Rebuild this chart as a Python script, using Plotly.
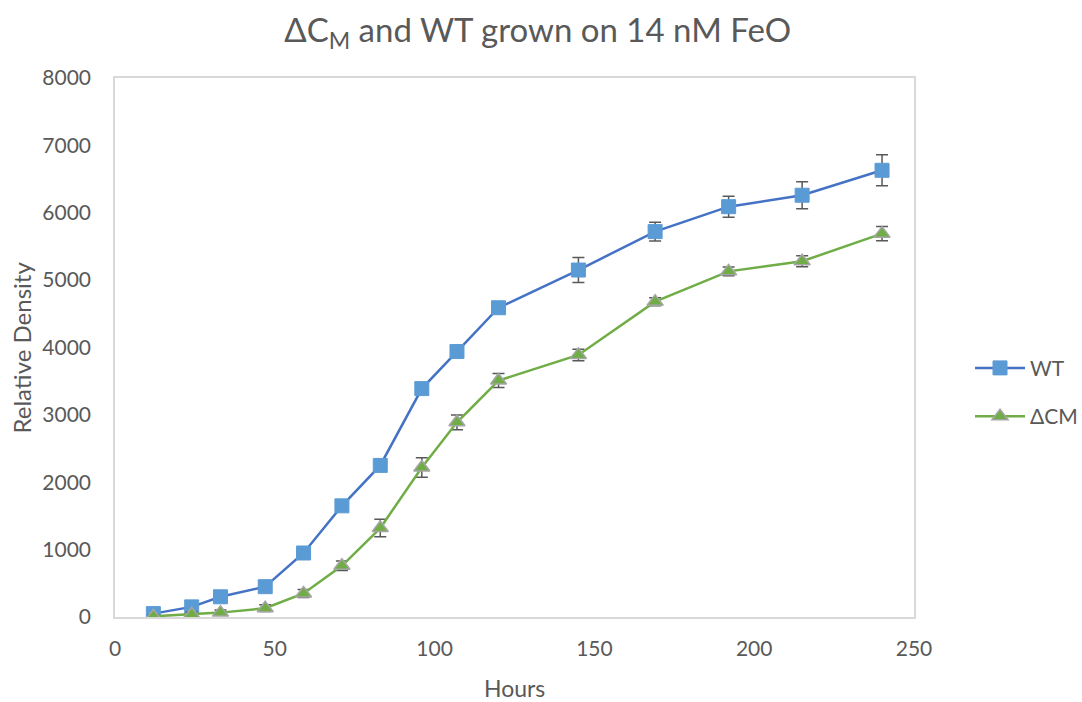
import plotly.graph_objects as go

hours_wt = [12, 24, 33, 47, 59, 71, 83, 96, 107, 120, 145, 169, 192, 215, 240]
wt = [50, 150, 300, 450, 950, 1650, 2250, 3390, 3940, 4590, 5150, 5720, 6090, 6260, 6630]
wt_err = [20, 30, 30, 40, 50, 50, 60, 60, 60, 70, 185, 140, 155, 200, 230]

hours_cm = [12, 24, 33, 47, 59, 71, 83, 96, 107, 120, 145, 169, 192, 215, 240]
cm = [10, 40, 65, 130, 350, 760, 1320, 2220, 2890, 3510, 3890, 4680, 5130, 5280, 5690]
cm_err = [20, 30, 40, 50, 60, 70, 130, 145, 110, 105, 85, 60, 65, 80, 105]

font = "Lato, Calibri, Carlito, sans-serif"
txt = "#595959"

fig = go.Figure()
fig.add_trace(go.Scatter(
    x=hours_wt, y=wt, name="WT", mode="lines+markers",
    line=dict(color="#4472C4", width=2.5),
    marker=dict(symbol="square", size=14, color="#5B9BD5", line=dict(color="#5B9BD5", width=1)),
    error_y=dict(type="data", array=wt_err, color="#595959", thickness=1.5, width=6),
    legendgroup="a",
))
fig.add_trace(go.Scatter(
    x=hours_cm, y=cm, name="ΔCM", mode="lines+markers",
    line=dict(color="#70AD47", width=2.5),
    marker=dict(symbol="triangle-up", size=14, color="#70AD47", line=dict(color="#A5A5A5", width=1.5)),
    error_y=dict(type="data", array=cm_err, color="#595959", thickness=1.5, width=6),
    legendgroup="b",
))

fig.update_layout(
    width=1082, height=702,
    paper_bgcolor="white", plot_bgcolor="white",
    margin=dict(l=115, r=168, t=78, b=85, autoexpand=False),
    font=dict(family=font, color=txt, size=21),
    title=dict(text="ΔC<sub>M</sub> and WT grown on 14 nM FeO", x=0.497, xanchor="center",
               y=0.957, yanchor="middle", font=dict(size=33, color=txt, family=font)),
    xaxis=dict(range=[0, 250], tickvals=[0, 50, 100, 150, 200, 250], showgrid=False,
               zeroline=False, showline=True, linecolor="#D9D9D9", linewidth=1.5, mirror=True,
               ticks="", ticklabelstandoff=12, tickfont=dict(size=21), automargin=False),
    yaxis=dict(range=[0, 8000], tickvals=list(range(0, 8001, 1000)), showgrid=False,
               zeroline=False, showline=True, linecolor="#D9D9D9", linewidth=1.5, mirror=True,
               ticks="", ticklabelstandoff=18, tickfont=dict(size=21), automargin=False),
    legend=dict(xref="container", x=0.8965, y=0.417, yref="paper", xanchor="left", yanchor="middle",
                tracegroupgap=18, itemwidth=50, font=dict(size=21, color=txt),
                bgcolor="rgba(0,0,0,0)"),
    annotations=[
        dict(text="Hours", xref="paper", yref="paper", x=0.5, y=-0.1317,
             xanchor="center", yanchor="middle", showarrow=False,
             font=dict(size=23, color=txt, family=font)),
        dict(text="Relative Density", xref="paper", yref="paper", x=-0.1164, y=0.5,
             xanchor="center", yanchor="middle", textangle=-90, showarrow=False,
             font=dict(size=24, color=txt, family=font)),
    ],
)

fig.write_html("out.html")
